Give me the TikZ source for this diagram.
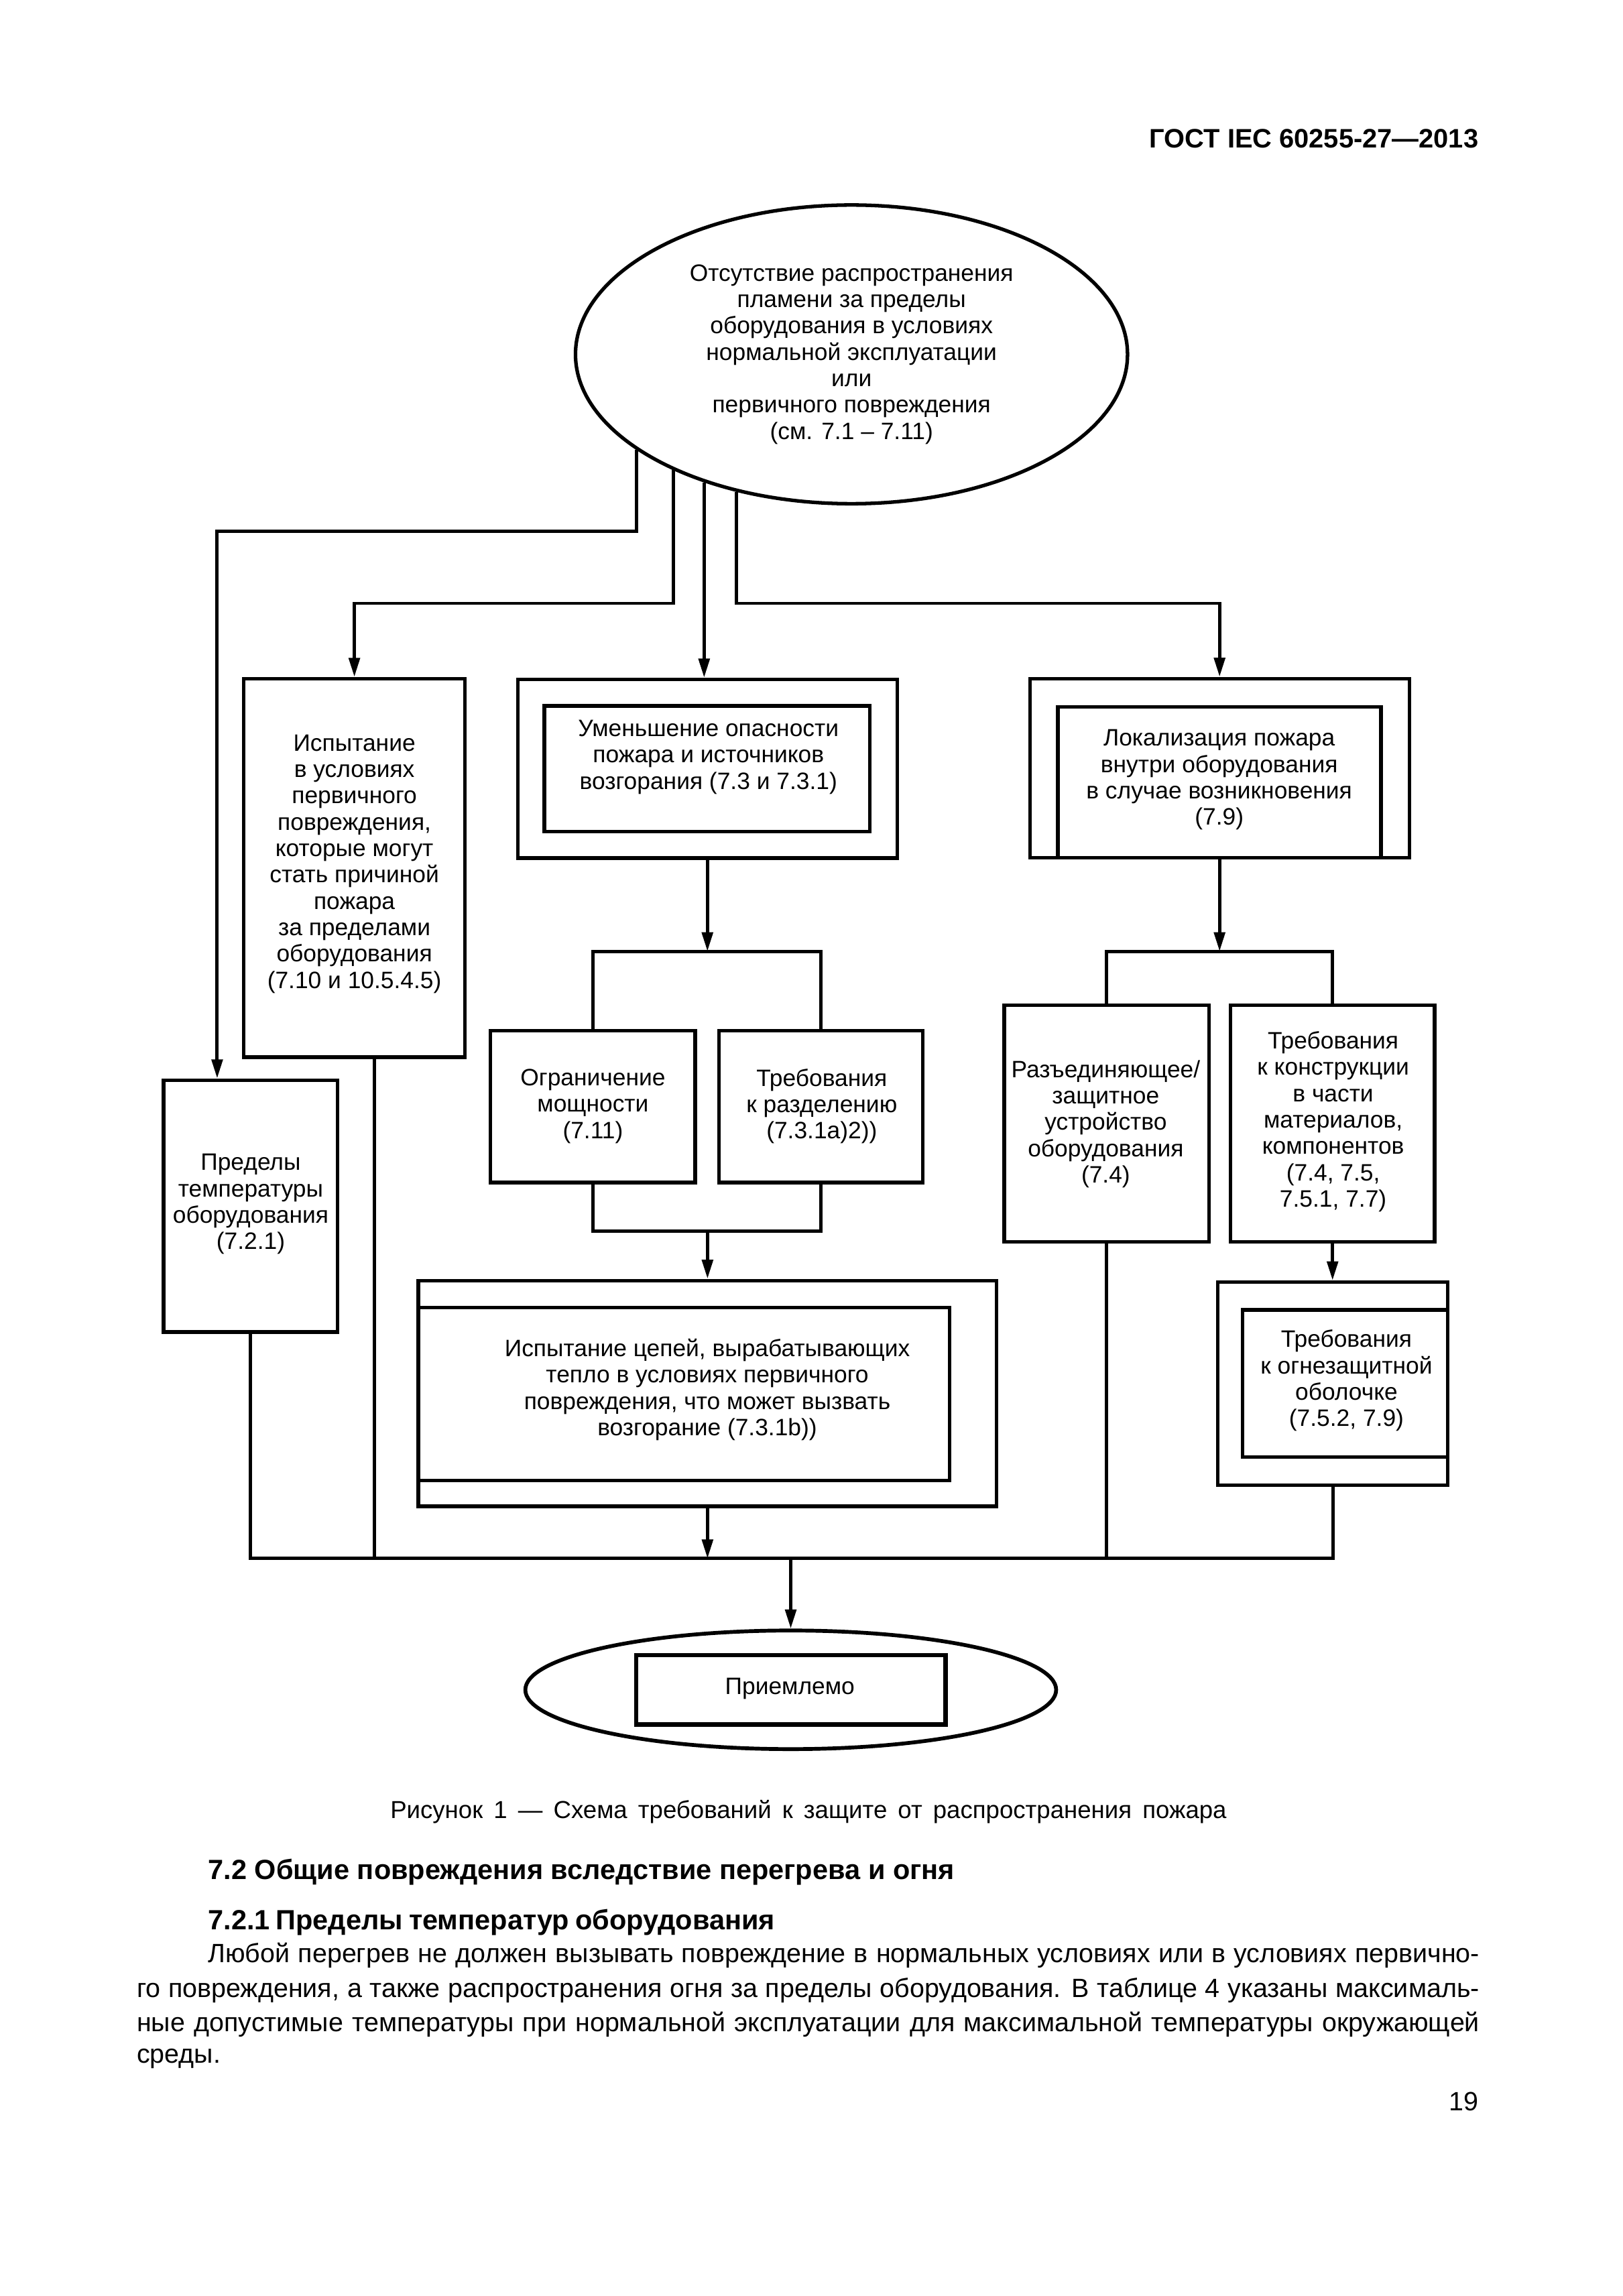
\documentclass[tikz,border=0pt]{standalone}
\usepackage{fontspec}
\setmainfont{Liberation Sans}
\usetikzlibrary{arrows.meta,shapes.geometric}
\tikzset{
  sz/.style 2 args={minimum width=#1*0.5373pt, minimum height=#2*0.5373pt},
  box/.style={draw, rectangle, line width=1.3pt, inner sep=0pt},
  oval/.style={draw, ellipse, line width=1.3pt, inner sep=0pt},
  conn/.style={line width=1.2pt, line join=miter},
  arr/.style={conn, -{Triangle[length=7pt,width=4pt]}},
  txt/.style={align=center, inner sep=0pt, font=\fontsize{8.7}{9.67}\selectfont},
  pagetxt/.style={inner sep=0pt, font=\fontsize{9.7}{12}\selectfont},
  headtxt/.style={inner sep=0pt, font=\bfseries\fontsize{10.2}{12}\selectfont},
}
\begin{document}
\begin{tikzpicture}[x=0.5373pt, y=-0.5373pt]
\useasboundingbox[fill=white] (0,0) rectangle (1108,1568);

% page texts
\node[headtxt, font=\bfseries\fontsize{9.8}{12}\selectfont, anchor=east] (hdr) at (1010,94.6) {ГОСТ IEC 60255-27—2013};

% top ellipse
\node[oval, txt, sz={377}{204}] (top) at (581.5,242) {Отсутствие распространения\\пламени за пределы\\оборудования в условиях\\нормальной эксплуатации\\или\\первичного повреждения\\(см. 7.1 – 7.11)};

% boxes
\node[box, sz={151}{258.5}] (isp) at (242,592.75) {};
\node[box, sz={118.7}{171.9}] (pred) at (171,823.65) {};
\node[box, sz={259.2}{122}] (umeno) at (483.1,525) {};
\node[box, sz={222.3}{86}] (umeni) at (482.85,525) {};
\node[box, sz={139.7}{103.7}] (ogr) at (404.85,755.65) {};
\node[box, sz={139.2}{103.7}] (trebA) at (560.6,755.65) {};
\node[box, sz={394.9}{154.2}] (heato) at (483.15,951.6) {};
\node[box, sz={362.7}{118}] (heati) at (467.05,951.9) {};
\node[box, sz={259.1}{122.5}] (loko) at (832.85,524.65) {};
\node[box, sz={220.7}{103.1}] (loki) at (832.75,534.35) {};
\node[box, sz={139.8}{161.4}] (razd) at (755.7,767.3) {};
\node[box, sz={139.4}{161.4}] (trebB) at (910,767.3) {};
\node[box, sz={156.9}{138.5}] (ogno) at (910.15,944.85) {};
\node[box, sz={140.1}{100.5}] (ogni) at (918.55,944.75) {};
\node[oval, line width=1.4pt, sz={362.5}{81}] (accept) at (540,1154) {};
\node[box, line width=1.6pt, sz={211.3}{47.4}] (accepti) at (540.05,1154.1) {};

% box texts
\node[txt] (tIsp) at (242,590) {Испытание\\в условиях\\первичного\\повреждения,\\которые могут\\стать причиной\\пожара\\за пределами\\оборудования\\(7.10 и 10.5.4.5)};
\node[txt] (tPred) at (171.2,822.4) {Пределы\\температуры\\оборудования\\(7.2.1)};
\node[txt] (tUmen) at (483.8,517) {Уменьшение опасности\\пожара и источников\\возгорания (7.3 и 7.3.1)};
\node[txt] (tOgr) at (404.9,755.5) {Ограничение\\мощности\\(7.11)};
\node[txt] (tTrebA) at (561.2,755.5) {Требования\\к разделению\\(7.3.1a)2))};
\node[txt] (tHeat) at (483,949) {Испытание цепей, вырабатывающих\\тепло в условиях первичного\\повреждения, что может вызвать\\возгорание (7.3.1b))};
\node[txt] (tLok) at (832.6,532.5) {Локализация пожара\\внутри оборудования\\в случае возникновения\\(7.9)};
\node[txt] (tRazd) at (755.1,767.6) {Разъединяющее/\\защитное\\устройство\\оборудования\\(7.4)};
\node[txt] (tTrebB) at (910.4,766) {Требования\\к конструкции\\в части\\материалов,\\компонентов\\(7.4, 7.5,\\7.5.1, 7.7)};
\node[txt] (tOgn) at (919.5,942.9) {Требования\\к огнезащитной\\оболочке\\(7.5.2, 7.9)};
\node[txt] (tAcc) at (539.4,1153) {Приемлемо};

% helper coordinates
\coordinate (yA) at (0,362.7);
\coordinate (yB) at (0,412);
\coordinate (xL) at (148.3,0);
\coordinate (xI) at (255.8,0);
\coordinate (brkA) at (0,649.7);
\coordinate (brkB) at (0,840.9);
\coordinate (bot) at (0,1064.3);

% connectors
\draw[arr] (top.204.73) |- (xL |- yA) -- (xL |- pred.north);
\draw[arr] (top.213.05) |- (isp.north |- yB) -- (isp.north);
\draw[arr] (top.221.45) -- (top.221.45 |- umeno.north);
\draw[arr] (top.230.62) |- (loko.north |- yB) -- (loko.north);

\draw[arr] (umeno.south) -- (umeno.south |- brkA);
\draw[conn] (ogr.north) |- (trebA.north |- brkA) -- (trebA.north);
\draw[conn] (ogr.south) |- (trebA.south |- brkB) -- (trebA.south);
\draw[arr] (heato.north |- brkB) -- (heato.north);

\draw[arr] (loko.south) -- (loko.south |- brkA);
\draw[conn] (razd.north) |- (trebB.north |- brkA) -- (trebB.north);
\draw[arr] (trebB.south) -- (trebB.south |- ogno.north);

\draw[conn] (pred.south) |- (ogno.south |- bot) -- (ogno.south);
\draw[conn] (isp.south -| xI) -- (xI |- bot);
\draw[conn] (razd.south) -- (razd.south |- bot);
\draw[arr] (heato.south) -- (heato.south |- bot);
\draw[arr] (accept.north |- bot) -- (accept.north);

% caption and text
\node[pagetxt, font=\fontsize{9}{11}\selectfont, anchor=west] (cap) at (266.2,1237.3) {\makebox[306.8pt][s]{Рисунок 1 — Схема требований к защите от распространения пожара}};
\node[headtxt, anchor=west] (h1) at (141.8,1278.6) {\makebox[273.9pt][s]{7.2 Общие повреждения вследствие перегрева и огня}};
\node[headtxt, anchor=west] (h2) at (141.8,1312.8) {\makebox[207.9pt][s]{7.2.1 Пределы температур оборудования}};
\node[pagetxt, anchor=west] (b1) at (141.8,1335.6) {\makebox[466.5pt][s]{Любой перегрев не должен вызывать повреждение в нормальных условиях или в условиях первично-}};
\node[pagetxt, anchor=west] (b2) at (93.1,1359.5) {\makebox[492.6pt][s]{го повреждения, а также распространения огня за пределы оборудования. В таблице 4 указаны максималь-}};
\node[pagetxt, anchor=west] (b3) at (93.1,1382.7) {\makebox[492.6pt][s]{ные допустимые температуры при нормальной эксплуатации для максимальной температуры окружающей}};
\node[pagetxt, anchor=west] (b4) at (93.1,1405.8) {среды.};
\node[pagetxt, anchor=east] (pg) at (1010,1435) {19};
\end{tikzpicture}
\end{document}
